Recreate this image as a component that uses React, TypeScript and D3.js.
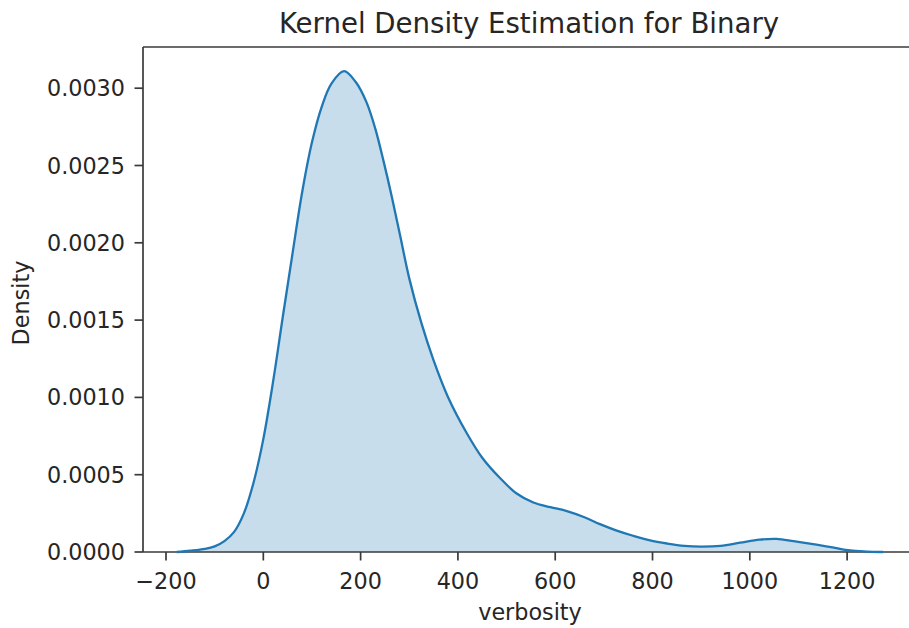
import React, { useEffect, useRef } from 'react';
import * as d3 from 'd3';

// KDE curve: verbosity value and density
const verbosity = [
  -178, -150, -120, -100, -80, -60, -40, -20, 0, 20, 40, 60, 80, 100, 120, 140, 166,
  190, 212, 230, 247, 264, 281, 300, 325, 350, 380, 418, 450, 486, 520, 555, 590,
  624, 660, 692, 725, 760, 795, 830, 865, 900, 940, 980, 1020, 1055, 1090, 1137,
  1170, 1206, 1240, 1274,
];
const density = [
  0, 0.000008, 0.00002, 0.000036, 0.00007, 0.00013, 0.00025, 0.00045, 0.00073,
  0.0011, 0.00152, 0.00193, 0.00233, 0.00265, 0.00288, 0.00303, 0.00311, 0.00304,
  0.00291, 0.00274, 0.00253, 0.0023, 0.00205, 0.00177, 0.00148, 0.00124, 0.001,
  0.00077, 0.00061, 0.00048, 0.00038, 0.00032, 0.00029, 0.000265, 0.000225, 0.00018,
  0.00014, 0.000105, 0.000075, 0.000055, 0.00004, 0.000035, 0.00004, 0.00006, 0.00008,
  0.000085, 0.00007, 0.000047, 0.00003, 0.00001, 0.000003, 0,
];
const xTicks = [-200, 0, 200, 400, 600, 800, 1000, 1200];
const yTicks = [0, 0.0005, 0.001, 0.0015, 0.002, 0.0025, 0.003];

export default function App() {
  const chartRef = useRef<HTMLDivElement>(null);

  useEffect(() => {
    d3.select(chartRef.current).select('svg').remove();

    const W = 909;
    const H = 628;
    const font = 'DejaVu Sans, sans-serif';

    const svg = d3
      .select(chartRef.current)
      .append('svg')
      .attr('width', W)
      .attr('height', H)
      .style('position', 'absolute')
      .style('left', '0px')
      .style('top', '0px')
      .style('background', '#fff');

    // axes area runs past the right edge of the picture (cropped)
    const left = 143;
    const top = 47;
    const bottom = 552;

    const x = d3.scaleLinear().domain([-247.3, 1347]).range([left, left + 1594.3 * 0.4865]);
    const y = d3.scaleLinear().domain([0, 0.003]).range([bottom, bottom - 6 * 77.3]);

    const pts: [number, number][] = verbosity.map((v, i) => [v, density[i]]);
    const curve = d3.curveCatmullRom.alpha(0.5);

    const area = d3
      .area<[number, number]>()
      .x(d => x(d[0]))
      .y0(y(0))
      .y1(d => y(d[1]))
      .curve(curve);

    const line = d3
      .line<[number, number]>()
      .x(d => x(d[0]))
      .y(d => y(d[1]))
      .curve(curve);

    svg.append('path').attr('d', area(pts)).attr('fill', '#1f77b4').attr('fill-opacity', 0.25);

    // spines
    const spine = '#3a3a3a';
    svg.append('line').attr('x1', left).attr('x2', W).attr('y1', top).attr('y2', top)
      .attr('stroke', spine).attr('stroke-width', 1.7);
    svg.append('line').attr('x1', left).attr('x2', W).attr('y1', bottom).attr('y2', bottom)
      .attr('stroke', spine).attr('stroke-width', 1.7);
    svg.append('line').attr('x1', left).attr('x2', left).attr('y1', top).attr('y2', bottom)
      .attr('stroke', spine).attr('stroke-width', 1.7);

    svg.append('path').attr('d', line(pts)).attr('fill', 'none')
      .attr('stroke', '#1f77b4').attr('stroke-width', 2.3);

    // x ticks
    const xg = svg.append('g');
    xg.selectAll('line').data(xTicks).join('line')
      .attr('x1', d => x(d)).attr('x2', d => x(d))
      .attr('y1', bottom).attr('y2', bottom + 8.5)
      .attr('stroke', spine).attr('stroke-width', 1.7);
    xg.selectAll('text').data(xTicks).join('text')
      .attr('x', d => x(d)).attr('y', 588.5)
      .attr('text-anchor', 'middle')
      .attr('font-family', font).attr('font-size', 22.3).attr('fill', '#262626')
      .text(d => (d < 0 ? '\u2212' + Math.abs(d) : String(d)));

    // y ticks
    const yg = svg.append('g');
    yg.selectAll('line').data(yTicks).join('line')
      .attr('x1', left - 8.5).attr('x2', left)
      .attr('y1', d => y(d)).attr('y2', d => y(d))
      .attr('stroke', spine).attr('stroke-width', 1.7);
    yg.selectAll('text').data(yTicks).join('text')
      .attr('x', 125).attr('y', d => y(d))
      .attr('dy', '0.36em')
      .attr('text-anchor', 'end')
      .attr('font-family', font).attr('font-size', 22.3).attr('fill', '#262626')
      .text(d => d3.format('.4f')(d));

    // labels
    svg.append('text').attr('x', 530).attr('y', 620)
      .attr('text-anchor', 'middle').attr('font-family', font).attr('font-size', 22.3)
      .attr('fill', '#262626').text('verbosity');

    svg.append('text')
      .attr('transform', 'translate(28.6,303) rotate(-90)')
      .attr('text-anchor', 'middle').attr('font-family', font).attr('font-size', 22.3)
      .attr('fill', '#262626').text('Density');

    svg.append('text').attr('x', 529).attr('y', 33)
      .attr('text-anchor', 'middle').attr('font-family', font).attr('font-size', 27.6)
      .attr('fill', '#262626').text('Kernel Density Estimation for Binary');
  }, []);

  return (
    <div>
      <div className='kde-chart' ref={chartRef}></div>
    </div>
  );
}
